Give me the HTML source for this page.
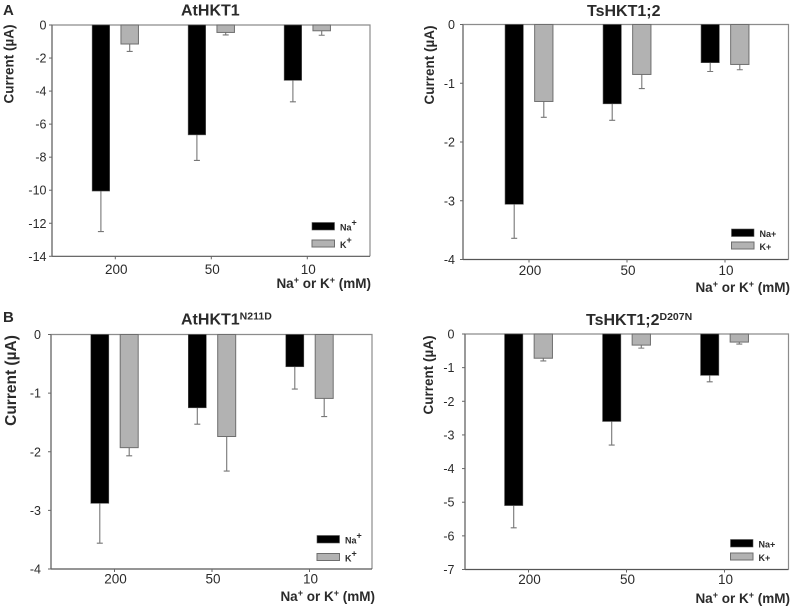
<!DOCTYPE html>
<html>
<head>
<meta charset="utf-8">
<title>HKT1 current panels</title>
<style>
html,body{margin:0;padding:0;background:#fff;width:793px;height:607px;overflow:hidden}
svg{display:block}
text{font-family:"Liberation Sans",sans-serif;fill:#2b2b2b}
</style>
</head>
<body>
<svg id="figure" xmlns="http://www.w3.org/2000/svg" width="793" height="607" viewBox="0 0 793 607">
<defs><filter id="soft" x="-5%" y="-5%" width="110%" height="110%"><feGaussianBlur stdDeviation="0.35"/></filter></defs>
<g id="root" filter="url(#soft)">
<text x="3" y="15" font-size="15" font-weight="bold" fill="#111">A</text>
<text x="3" y="322" font-size="15" font-weight="bold" fill="#111">B</text>
</g>
</svg>
<script>
const categories = ['200', '50', '10'];

const atNa = [-10.05, -6.65, -3.35];
const atNaErr = [-12.5, -8.2, -4.65];
const atK = [-1.15, -0.45, -0.35];
const atKErr = [-1.6, -0.6, -0.62];
const atTicks = [0, -2, -4, -6, -8, -10, -12, -14];

const tsNa = [-3.06, -1.35, -0.65];
const tsNaErr = [-3.64, -1.63, -0.8];
const tsK = [-1.31, -0.85, -0.68];
const tsKErr = [-1.58, -1.09, -0.77];
const tsTicks = [0, -1, -2, -3, -4];

const atMutNa = [-2.88, -1.25, -0.55];
const atMutNaErr = [-3.56, -1.53, -0.93];
const atMutK = [-1.93, -1.74, -1.09];
const atMutKErr = [-2.07, -2.33, -1.4];
const atMutTicks = [0, -1, -2, -3, -4];

const tsMutNa = [-5.1, -2.6, -1.23];
const tsMutNaErr = [-5.76, -3.3, -1.42];
const tsMutK = [-0.72, -0.33, -0.24];
const tsMutKErr = [-0.8, -0.42, -0.3];
const tsMutTicks = [0, -1, -2, -3, -4, -5, -6, -7];

const NS = 'http://www.w3.org/2000/svg';
const root = document.getElementById('root');

function mk(tag, attrs, parent) {
  const el = document.createElementNS(NS, tag);
  for (const k in attrs) el.setAttribute(k, attrs[k]);
  parent.appendChild(el);
  return el;
}

function addRichText(el, parts, supSize) {
  let lift = false;
  parts.forEach(function (p) {
    const t = document.createElementNS(NS, 'tspan');
    if (p.sup) { t.setAttribute('font-size', supSize); t.setAttribute('dy', -5); lift = true; }
    else if (lift) { t.setAttribute('dy', 5); lift = false; }
    t.textContent = p.t;
    el.appendChild(t);
  });
}

function drawPanel(p) {
  const g = mk('g', {}, root);
  
  

  const yMin = p.ticks[p.ticks.length - 1];
  const y = function (v) { return p.top + (v / yMin) * (p.bottom - p.top); };
  const x = function (i) { return p.x0 + i * p.step; };

  const frame = mk('path', {
    d: 'M' + p.left + ' ' + p.bottom + 'V' + p.top + 'H' + p.right + 'V' + p.bottom,
    fill: 'none', stroke: '#8c8c8c', 'stroke-width': 1.2
  }, g);
  
  

  const xAxis = mk('line', { x1: p.left, x2: p.right, y1: p.bottom, y2: p.bottom, stroke: '#555', 'stroke-width': 1.2 }, g);
  
  

  const yAxis = mk('line', { x1: p.left, x2: p.left, y1: p.top, y2: p.bottom, stroke: '#666', 'stroke-width': 1.2 }, g);
  
  

  p.ticks.forEach(function (t) {
    const mark = mk('line', { x1: p.left - 3, x2: p.left, y1: y(t), y2: y(t), stroke: '#666', 'stroke-width': 1 }, g);
    
    
    const lab = mk('text', { x: p.tickX, y: y(t) + 4.5, 'text-anchor': 'end', 'font-size': 12.5, fill: '#333' }, g);
    lab.textContent = String(t);
    
    
  });

  categories.forEach(function (c, i) {
    const mark = mk('line', { x1: x(i), x2: x(i), y1: p.bottom, y2: p.bottom + 3, stroke: '#666', 'stroke-width': 1 }, g);
    
    
    const lab = mk('text', { x: x(i) + 1, y: p.catY, 'text-anchor': 'middle', 'font-size': 13.5, fill: '#333' }, g);
    lab.textContent = c;
    
    

    const nx = x(i) - p.off - p.bw / 2;
    const kx = x(i) + p.off - p.bw / 2;
    const nCx = x(i) - p.off;
    const kCx = x(i) + p.off;

    const e1 = mk('path', {
      d: 'M' + nCx + ' ' + y(p.na[i]) + 'V' + y(p.naErr[i]) + 'M' + (nCx - 3) + ' ' + y(p.naErr[i]) + 'H' + (nCx + 3),
      fill: 'none', stroke: '#777', 'stroke-width': 1.1
    }, g);
    
    

    const e2 = mk('path', {
      d: 'M' + kCx + ' ' + y(p.k[i]) + 'V' + y(p.kErr[i]) + 'M' + (kCx - 3) + ' ' + y(p.kErr[i]) + 'H' + (kCx + 3),
      fill: 'none', stroke: '#777', 'stroke-width': 1.1
    }, g);
    
    

    const b1 = mk('rect', { x: nx, y: y(0), width: p.bw, height: y(p.na[i]) - y(0), fill: '#000', stroke: '#555', 'stroke-width': 0.6 }, g);
    
    

    const b2 = mk('rect', { x: kx, y: y(0), width: p.bw, height: y(p.k[i]) - y(0), fill: '#b2b2b2', stroke: '#6e6e6e', 'stroke-width': 1 }, g);
    
    
  });

  const title = mk('text', { x: p.titleX, y: p.titleY, 'font-size': 16, 'font-weight': 'bold', fill: '#222' }, g);
  addRichText(title, p.title, 10.5);
  
  

  const yt = mk('text', {
    transform: 'translate(' + p.yLabX + ' ' + p.yLabY + ') rotate(-90)',
    'text-anchor': 'middle', 'font-size': p.yLabSize, 'font-weight': 'bold', fill: '#222'
  }, g);
  yt.textContent = 'Current (\u00b5A)';
  
  

  const xt = mk('text', { x: p.xLabX, y: p.xLabY, 'text-anchor': 'end', 'font-size': 13.5, 'font-weight': 'bold', fill: '#222' }, g);
  addRichText(xt, [{ t: 'Na' }, { t: '+', sup: true }, { t: ' or K' }, { t: '+', sup: true }, { t: ' (mM)' }], 9);
  
  

  const s1 = mk('rect', { x: p.lgX, y: p.lgY1, width: 22.5, height: 7.5, fill: '#000', stroke: '#555', 'stroke-width': 0.6 }, g);
  
  

  const s2 = mk('rect', { x: p.lgX, y: p.lgY2, width: 22.5, height: 7, fill: '#b2b2b2', stroke: '#6e6e6e', 'stroke-width': 1 }, g);
  
  

  const l1 = mk('text', { x: p.lgX + 28, y: p.lgY1 + 8, 'font-size': 9, 'font-weight': 'bold', fill: '#333' }, g);
  addRichText(l1, p.plusSup ? [{ t: 'Na' }, { t: '+', sup: true }] : [{ t: 'Na+' }], 9);
  
  

  const l2 = mk('text', { x: p.lgX + 28, y: p.lgY2 + 8, 'font-size': 9, 'font-weight': 'bold', fill: '#333' }, g);
  addRichText(l2, p.plusSup ? [{ t: 'K' }, { t: '+', sup: true }] : [{ t: 'K+' }], 9);
  
  
}

drawPanel({
  name: 'panel-athkt1', title: [{ t: 'AtHKT1' }], titleX: 181, titleY: 15.5,
  left: 52, right: 370, top: 25, bottom: 256.3, x0: 115.3, step: 96, off: 14.4, bw: 17.5,
  tickX: 46.5, catY: 274, ticks: atTicks, na: atNa, naErr: atNaErr, k: atK, kErr: atKErr,
  yLabX: 13.5, yLabY: 64, yLabSize: 13.5, xLabX: 371, xLabY: 288,
  lgX: 312, lgY1: 222.5, lgY2: 240, plusSup: true
});
drawPanel({
  name: 'panel-tshkt1-2', title: [{ t: 'TsHKT1;2' }], titleX: 587, titleY: 16,
  left: 463, right: 788.5, top: 24.5, bottom: 259.5, x0: 529, step: 98, off: 14.8, bw: 18.3,
  tickX: 455, catY: 275, ticks: tsTicks, na: tsNa, naErr: tsNaErr, k: tsK, kErr: tsKErr,
  yLabX: 434, yLabY: 65, yLabSize: 13.5, xLabX: 790, xLabY: 292,
  lgX: 731.5, lgY1: 229, lgY2: 242, plusSup: false
});
drawPanel({
  name: 'panel-athkt1-n211d', title: [{ t: 'AtHKT1' }, { t: 'N211D', sup: true }], titleX: 181, titleY: 324.5,
  left: 51, right: 372, top: 334.5, bottom: 569, x0: 114.5, step: 97.5, off: 14.7, bw: 18,
  tickX: 41, catY: 583.5, ticks: atMutTicks, na: atMutNa, naErr: atMutNaErr, k: atMutK, kErr: atMutKErr,
  yLabX: 16, yLabY: 380.5, yLabSize: 15.5, xLabX: 375, xLabY: 601,
  lgX: 317, lgY1: 535.5, lgY2: 553.5, plusSup: true
});
drawPanel({
  name: 'panel-tshkt1-2-d207n', title: [{ t: 'TsHKT1;2' }, { t: 'D207N', sup: true }], titleX: 586, titleY: 325,
  left: 465, right: 788.5, top: 334, bottom: 569.5, x0: 528.5, step: 98, off: 14.8, bw: 18.3,
  tickX: 454.5, catY: 584, ticks: tsMutTicks, na: tsMutNa, naErr: tsMutNaErr, k: tsMutK, kErr: tsMutKErr,
  yLabX: 433, yLabY: 375, yLabSize: 13.5, xLabX: 790, xLabY: 603,
  lgX: 730.5, lgY1: 539.5, lgY2: 553, plusSup: false
});
</script>
</body>
</html>
